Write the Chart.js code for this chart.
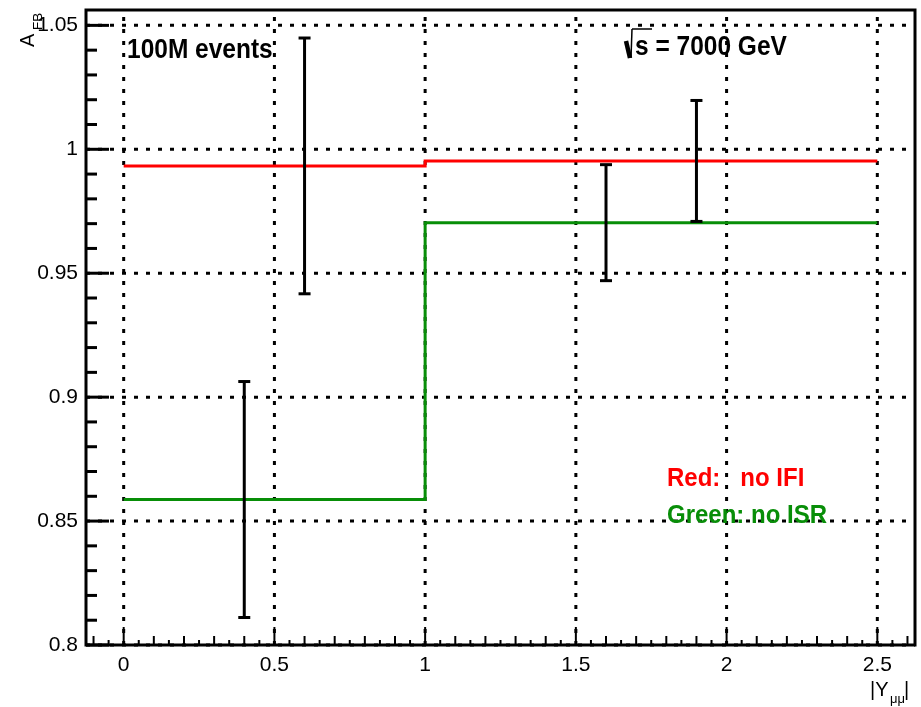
<!DOCTYPE html>
<html>
<head>
<meta charset="utf-8">
<title>A_FB vs |Y_mumu|</title>
<script src="https://cdn.jsdelivr.net/npm/chart.js@4.4.1/dist/chart.umd.min.js"></script>
<style>
  body { margin: 0; background: #fff; }
  #wrap { width: 921px; height: 707px; }
</style>
</head>
<body>
<div id="wrap"><canvas id="afb"></canvas></div>
<script>
// histogram bins (edges) and bin contents
const binEdges = [0, 1, 2.5];
const redValues = [0.9933, 0.9953];   // no IFI
const greenValues = [0.8587, 0.9704]; // no ISR

// points with error bars (no markers)
const errX = [0.4, 0.6, 1.6, 1.9];
const errY = [0.8587, 0.9933, 0.9704, 0.9953];
const errSize = [0.0476, 0.0516, 0.0234, 0.0244];

const xTicks = [0, 0.5, 1, 1.5, 2, 2.5];
const yTicks = [0.8, 0.85, 0.9, 0.95, 1, 1.05];

const FONT = '"Liberation Sans", Arial, Helvetica, sans-serif';
const GREEN = 'rgb(8,142,8)';

function stepPoints(vals) {
  return binEdges.map((e, i) => ({ x: e, y: vals[Math.min(i, vals.length - 1)] }));
}

function seg(ctx, x1, y1, x2, y2) {
  ctx.beginPath();
  ctx.moveTo(x1, y1);
  ctx.lineTo(x2, y2);
  ctx.stroke();
}

// bold text, a little taller like the ROOT output
function tallText(ctx, txt, x, y) {
  ctx.save();
  ctx.translate(x, y);
  ctx.scale(1, 1.1);
  ctx.fillText(txt, 0, 0);
  ctx.restore();
}

const rootStyle = {
  id: 'rootStyle',
  beforeDatasetsDraw(chart) {
    const { ctx, chartArea: a, scales: { x, y } } = chart;
    ctx.save();
    ctx.strokeStyle = '#000';
    ctx.lineWidth = 3;
    ctx.setLineDash([4, 8]);
    xTicks.forEach(v => {
      const px = x.getPixelForValue(v);
      seg(ctx, px, a.bottom, px, a.top);
    });
    yTicks.forEach(v => {
      const py = y.getPixelForValue(v);
      seg(ctx, a.left, py, a.right, py);
    });
    ctx.restore();
  },
  afterDatasetsDraw(chart) {
    const { ctx, chartArea: a, scales: { x, y } } = chart;
    ctx.save();
    ctx.strokeStyle = '#000';
    ctx.lineWidth = 3;

    // error bars
    errX.forEach((v, i) => {
      const px = x.getPixelForValue(v);
      const top = y.getPixelForValue(errY[i] + errSize[i]);
      const bot = y.getPixelForValue(errY[i] - errSize[i]);
      seg(ctx, px, top, px, bot);
      seg(ctx, px - 6, top, px + 6, top);
      seg(ctx, px - 6, bot, px + 6, bot);
    });

    // frame
    ctx.strokeRect(a.left, a.top, a.right - a.left, a.bottom - a.top);

    // y axis ticks (inside)
    for (let k = 0; ; k++) {
      const v = 0.8 + k * 0.01;
      if (v > y.max + 1e-9) break;
      const py = y.getPixelForValue(v);
      const len = k % 5 === 0 ? 23 : 11;
      seg(ctx, a.left, py, a.left + len, py);
    }
    // x axis ticks (inside)
    ctx.lineWidth = 2;
    for (let k = -2; ; k++) {
      const v = k * 0.05;
      if (v > x.max + 1e-9) break;
      const px = x.getPixelForValue(v);
      const len = k % 10 === 0 ? 18 : (k % 2 === 0 ? 9 : 5);
      seg(ctx, px, a.bottom, px, a.bottom - len);
    }

    // axis titles
    ctx.fillStyle = '#000';
    ctx.textBaseline = 'alphabetic';
    ctx.textAlign = 'left';
    ctx.save();
    ctx.translate(33.5, 47);
    ctx.rotate(-Math.PI / 2);
    ctx.font = '20px ' + FONT;
    ctx.fillText('A', 0, 0);
    ctx.font = '13.5px ' + FONT;
    ctx.fillText('FB', 17, 8);
    ctx.restore();

    ctx.font = '20px ' + FONT;
    ctx.fillText('|Y', 870, 696);
    ctx.font = '13px ' + FONT;
    ctx.fillText('\u03bc\u03bc', 890, 703);
    ctx.font = '20px ' + FONT;
    ctx.fillText('|', 904, 696);

    // annotations
    ctx.font = 'bold 24.5px ' + FONT;
    tallText(ctx, '100M events', 127, 58);
    tallText(ctx, 's = 7000 GeV', 635, 55);
    ctx.lineWidth = 4.5;
    seg(ctx, 626, 41, 630, 58);
    ctx.lineWidth = 1.5;
    seg(ctx, 631, 58, 632, 29);
    seg(ctx, 632, 29, 652, 29);

    ctx.font = 'bold 24px ' + FONT;
    ctx.fillStyle = '#ff0000';
    tallText(ctx, 'Red:   no IFI', 667, 486);
    ctx.fillStyle = GREEN;
    tallText(ctx, 'Green: no ISR', 667, 523);
    ctx.restore();
  }
};

new Chart(document.getElementById('afb'), {
  type: 'line',
  data: {
    datasets: [
      {
        label: 'no IFI',
        data: stepPoints(redValues),
        borderColor: '#ff0000',
        borderWidth: 3,
        stepped: true,
        pointRadius: 0,
        fill: false
      },
      {
        label: 'no ISR',
        data: stepPoints(greenValues),
        borderColor: GREEN,
        borderWidth: 3,
        stepped: true,
        pointRadius: 0,
        fill: false
      }
    ]
  },
  options: {
    responsive: true,
    maintainAspectRatio: false,
    animation: false,
    layout: { padding: { top: 10, right: 6, left: 0, bottom: 0 } },
    plugins: {
      legend: { display: false },
      tooltip: { enabled: false }
    },
    scales: {
      x: {
        type: 'linear',
        min: -0.125,
        max: 2.625,
        grid: { display: false, drawTicks: false },
        border: { display: false },
        afterBuildTicks: s => { s.ticks = xTicks.map(v => ({ value: v })); },
        afterFit: s => { s.height = 62; s.paddingLeft = 0; s.paddingRight = 0; },
        ticks: {
          autoSkip: false,
          maxRotation: 0,
          padding: 8,
          color: '#000',
          font: { family: FONT, size: 21 },
          callback: v => String(v)
        }
      },
      y: {
        type: 'linear',
        min: 0.8,
        max: 1.0562,
        grid: { display: false, drawTicks: false },
        border: { display: false },
        afterBuildTicks: s => { s.ticks = yTicks.map(v => ({ value: v })); },
        afterFit: s => { s.width = 86; s.paddingTop = 0; s.paddingBottom = 0; },
        ticks: {
          autoSkip: false,
          padding: 8,
          color: '#000',
          font: { family: FONT, size: 21 },
          callback: v => String(v)
        }
      }
    }
  },
  plugins: [rootStyle]
});
</script>
</body>
</html>
